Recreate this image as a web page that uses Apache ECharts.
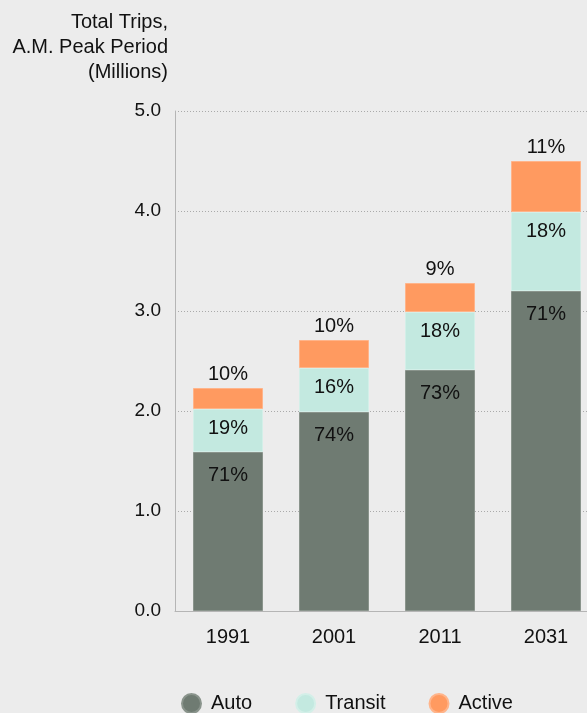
<!DOCTYPE html>
<html>
<head>
<meta charset="utf-8">
<script src="https://cdn.jsdelivr.net/npm/echarts@6/dist/echarts.min.js"></script>
<style>
  html, body { margin: 0; padding: 0; background: #ececec; }
  #chart { width: 587px; height: 713px; }
</style>
</head>
<body>
<div id="chart"></div>
<script>
  // years on the x axis
  const years = ['1991', '2001', '2011', '2031']
  // trips in millions, per mode (stacked)
  const autoTrips = [1.59, 1.99, 2.41, 3.20]
  const transitTrips = [0.43, 0.44, 0.58, 0.79]
  const activeTrips = [0.21, 0.28, 0.29, 0.51]
  // share labels printed on the bars
  const autoShare = ['71%', '74%', '73%', '71%']
  const transitShare = ['19%', '16%', '18%', '18%']
  const activeShare = ['10%', '10%', '9%', '11%']
  const yTicks = [0, 1, 2, 3, 4, 5]

  const font = '"Liberation Sans", Arial, Helvetica, sans-serif'
  const textColor = '#111'

  const chart = echarts.init(document.getElementById('chart'))

  const labelFrom = (arr, pos, dist) => ({
    show: true,
    position: pos,
    distance: dist,
    color: textColor,
    fontSize: 20,
    fontFamily: font,
    formatter: (p) => arr[p.dataIndex]
  })

  chart.setOption({
    backgroundColor: '#ececec',
    animation: false,
    title: {
      text: 'Total Trips,\nA.M. Peak Period\n(Millions)',
      left: 163,
      top: 5,
      textAlign: 'right',
      textStyle: {
        color: textColor,
        fontSize: 20,
        fontWeight: 'normal',
        fontFamily: font,
        lineHeight: 25,
        align: 'right'
      }
    },
    legend: {
      top: 688,
      left: 176,
      icon: 'circle',
      itemWidth: 19,
      itemHeight: 19,
      itemGap: 43,
      textStyle: { color: textColor, fontSize: 20, fontFamily: font, padding: [0, 0, 0, 5] },
      data: ['Auto', 'Transit', 'Active']
    },
    // plot area runs past the right edge of the page
    grid: {
      left: 175,
      width: 424,
      top: 111,
      bottom: 102,
      outerBoundsMode: 'none'
    },
    xAxis: {
      type: 'category',
      data: years,
      axisLine: { show: true, lineStyle: { color: '#b5b5b5', width: 1 } },
      axisTick: { show: false },
      axisLabel: { color: textColor, fontSize: 20, fontFamily: font, margin: 16 }
    },
    yAxis: {
      type: 'value',
      min: yTicks[0],
      max: yTicks[yTicks.length - 1],
      interval: 1,
      axisLine: { show: true, lineStyle: { color: '#b5b5b5', width: 1 } },
      axisTick: { show: false },
      axisLabel: {
        color: textColor,
        fontSize: 19,
        fontFamily: font,
        margin: 14,
        formatter: (v) => v.toFixed(1)
      },
      splitLine: { show: true, lineStyle: { color: '#aaaaaa', type: [1, 2], width: 1 } }
    },
    series: [
      {
        name: 'Auto',
        type: 'bar',
        stack: 'total',
        barWidth: 70,
        data: autoTrips,
        itemStyle: { color: '#6f7b72', borderColor: '#8a948c', borderWidth: 1 },
        label: labelFrom(autoShare, 'insideTop', 13)
      },
      {
        name: 'Transit',
        type: 'bar',
        stack: 'total',
        data: transitTrips,
        itemStyle: { color: '#c3e9e0', borderColor: '#d3efe8', borderWidth: 1 },
        label: labelFrom(transitShare, 'insideTop', 9)
      },
      {
        name: 'Active',
        type: 'bar',
        stack: 'total',
        data: activeTrips,
        itemStyle: { color: '#ff9a60', borderColor: '#ffb48a', borderWidth: 1 },
        label: labelFrom(activeShare, 'top', 4)
      }
    ]
  })
</script>
</body>
</html>
